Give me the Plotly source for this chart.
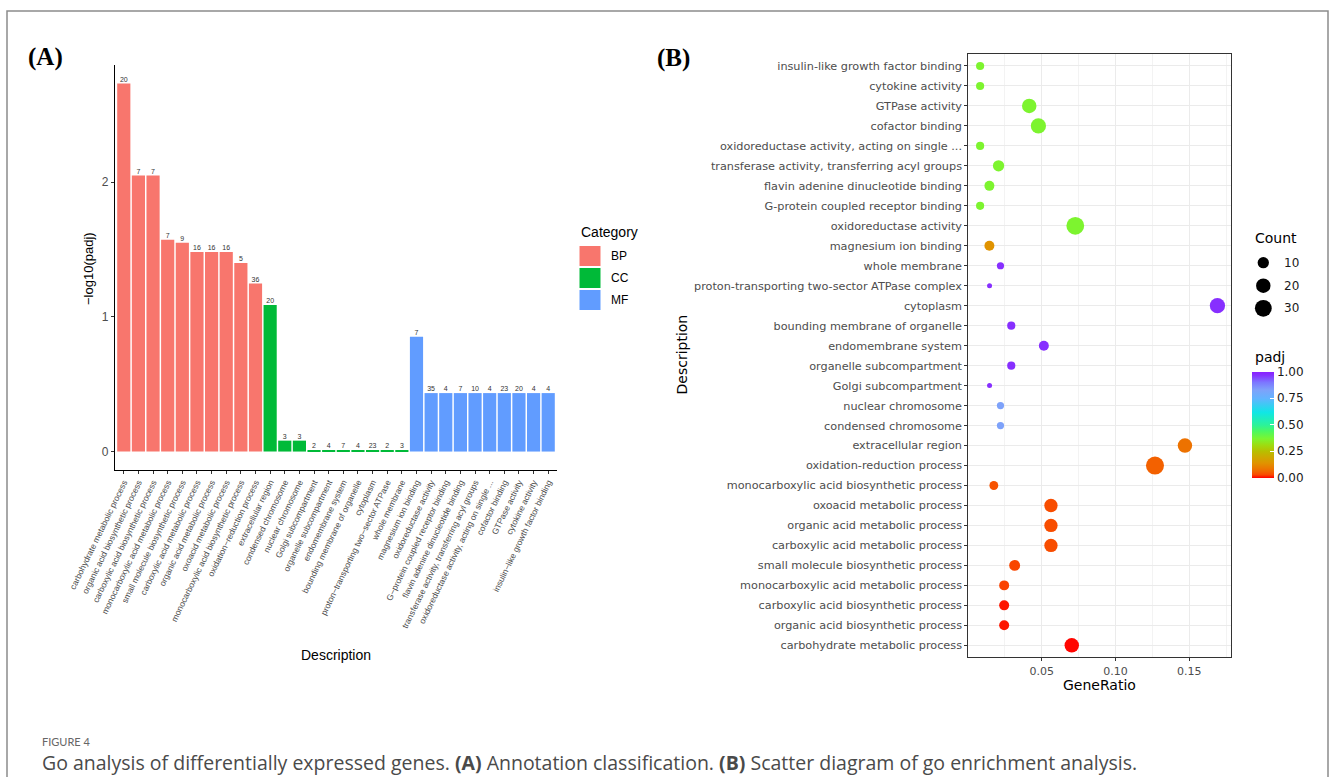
import numpy as np
import plotly.graph_objects as go

W, H = 1330, 777

# GO terms: bars run left to right in this order, dots run bottom to top
terms = [
    "carbohydrate metabolic process",
    "organic acid biosynthetic process",
    "carboxylic acid biosynthetic process",
    "monocarboxylic acid metabolic process",
    "small molecule biosynthetic process",
    "carboxylic acid metabolic process",
    "organic acid metabolic process",
    "oxoacid metabolic process",
    "monocarboxylic acid biosynthetic process",
    "oxidation-reduction process",
    "extracellular region",
    "condensed chromosome",
    "nuclear chromosome",
    "Golgi subcompartment",
    "organelle subcompartment",
    "endomembrane system",
    "bounding membrane of organelle",
    "cytoplasm",
    "proton-transporting two-sector ATPase complex",
    "whole membrane",
    "magnesium ion binding",
    "oxidoreductase activity",
    "G-protein coupled receptor binding",
    "flavin adenine dinucleotide binding",
    "transferase activity, transferring acyl groups",
    "oxidoreductase activity, acting on single ...",
    "cofactor binding",
    "GTPase activity",
    "cytokine activity",
    "insulin-like growth factor binding",
]

# tick labels of the bar chart
bar_labels = [
    "carbohydrate metabolic process",
    "organic acid biosynthetic process",
    "carboxylic acid biosynthetic process",
    "monocarboxylic acid metabolic process",
    "small molecule biosynthetic process",
    "carboxylic acid metabolic process",
    "organic acid metabolic process",
    "oxoacid metabolic process",
    "monocarboxylic acid biosynthetic process",
    "oxidation\u2212reduction process",
    "extracellular region",
    "condensed chromosome",
    "nuclear chromosome",
    "Golgi subcompartment",
    "organelle subcompartment",
    "endomembrane system",
    "bounding membrane of organelle",
    "cytoplasm",
    "proton\u2212transporting two\u2212sector ATPase",
    "whole membrane",
    "magnesium ion binding",
    "oxidoreductase activity",
    "G\u2212protein coupled receptor binding",
    "flavin adenine dinucleotide binding",
    "transferase activity, transferring acyl groups",
    "oxidoreductase activity, acting on single ...",
    "cofactor binding",
    "GTPase activity",
    "cytokine activity",
    "insulin\u2212like growth factor binding",
]

category = ["BP"] * 10 + ["CC"] * 10 + ["MF"] * 10

counts = [20, 7, 7, 7, 9, 16, 16, 16, 5, 36,
          20, 3, 3, 2, 4, 7, 4, 23, 2, 3,
          7, 35, 4, 7, 10, 4, 23, 20, 4, 4]

neg_log10_padj = [2.733, 2.049, 2.049, 1.573, 1.550, 1.481, 1.481, 1.481, 1.400, 1.247,
                  1.089, 0.081, 0.081, 0.011, 0.011, 0.011, 0.011, 0.011, 0.011, 0.011,
                  0.852, 0.434, 0.434, 0.434, 0.434, 0.434, 0.434, 0.434, 0.434, 0.434]

gene_ratio = [0.0704, 0.0246, 0.0246, 0.0246, 0.0317, 0.0563, 0.0563, 0.0563, 0.0176, 0.1268,
              0.1471, 0.0221, 0.0221, 0.0147, 0.0294, 0.0515, 0.0294, 0.1691, 0.0147, 0.0221,
              0.0146, 0.0728, 0.0083, 0.0146, 0.0208, 0.0083, 0.0478, 0.0416, 0.0083, 0.0083]

size_legend_counts = [10, 20, 30]
padj_ticks = [0.0, 0.25, 0.5, 0.75, 1.0]
ratio_ticks = [0.05, 0.10, 0.15]

cat_colors = {"BP": "#F8766D", "CC": "#00BA38", "MF": "#619CFF"}

padj_scale = [
    [0.00, "#FF0000"], [0.03, "#F94A00"], [0.06, "#F26400"], [0.09, "#EB7800"],
    [0.14, "#E09300"], [0.20, "#CCAA00"], [0.25, "#B8BE00"], [0.31, "#9EDC10"],
    [0.37, "#7CF530"], [0.44, "#4CF860"], [0.50, "#2CF29A"], [0.62, "#10E6E6"],
    [0.75, "#62B4FF"], [0.83, "#7EA2FA"], [0.90, "#7C78FF"], [0.97, "#8632FF"],
    [1.00, "#8A20FF"],
]

SANS = "Liberation Sans, Arial, sans-serif"
DJV = "DejaVu Sans, sans-serif"


def px(x):
    return x / W


def py(y):
    return 1 - y / H


padj = [10 ** (-v) for v in neg_log10_padj]
cmin_, cmax_ = min(counts), max(counts)


def dot_size(c):
    return 5 + 13 * np.sqrt((c - cmin_) / (cmax_ - cmin_))


sizes = [dot_size(c) for c in counts]
n_terms = len(terms)

fig = go.Figure()

# (A) bar chart of -log10(padj)
fig.add_trace(go.Bar(
    x=bar_labels, y=neg_log10_padj, width=0.9,
    marker=dict(color=[cat_colors[c] for c in category], line=dict(width=0)),
    xaxis="x", yaxis="y", showlegend=False, hoverinfo="skip",
))
fig.add_trace(go.Scatter(
    x=bar_labels, y=neg_log10_padj, mode="text",
    text=[str(c) for c in counts], textposition="top center",
    textfont=dict(family=SANS, size=7, color="#333333"),
    xaxis="x", yaxis="y", showlegend=False, hoverinfo="skip", cliponaxis=False,
))

# (B) enrichment dot plot
fig.add_trace(go.Scatter(
    x=gene_ratio, y=terms, mode="markers",
    marker=dict(
        size=sizes, sizemode="diameter", color=padj, colorscale=padj_scale,
        cmin=0, cmax=1, opacity=1, line=dict(width=0),
        colorbar=dict(
            x=px(1252), xanchor="left", y=py(424.7), yanchor="middle",
            len=106, lenmode="pixels", thickness=22, thicknessmode="pixels",
            xpad=0, ypad=0, outlinewidth=0,
            tickvals=padj_ticks, ticktext=[f"{v:.2f}" for v in padj_ticks],
            ticks="inside", ticklen=4, tickcolor="white", tickwidth=1,
            tickfont=dict(family=DJV, size=12, color="#1A1A1A"),
        ),
    ),
    xaxis="x2", yaxis="y2", showlegend=False, hoverinfo="skip",
))

fig.update_layout(
    width=W, height=H, margin=dict(l=0, r=0, t=0, b=0),
    template="none", paper_bgcolor="white", plot_bgcolor="white",
    showlegend=False,
    xaxis=dict(
        domain=[px(115), px(557)], anchor="y", type="category",
        categoryorder="array", categoryarray=bar_labels,
        range=[-0.6, n_terms - 0.4],
        showline=True, linecolor="black", linewidth=1.1, mirror=False,
        ticks="outside", ticklen=3, tickcolor="#333333", tickwidth=1,
        tickangle=-64, tickfont=dict(family=SANS, size=8.5, color="#4D4D4D"),
        showgrid=False, zeroline=False, automargin=False,
    ),
    yaxis=dict(
        domain=[py(470), py(65)], anchor="x", range=[-0.137, 2.87],
        tickvals=[0, 1, 2], showline=True, linecolor="black", linewidth=1.1,
        ticks="outside", ticklen=3, tickcolor="#333333", tickwidth=1,
        tickfont=dict(family=SANS, size=12, color="#4D4D4D"),
        showgrid=False, zeroline=False, automargin=False,
    ),
    xaxis2=dict(
        domain=[px(968.3), px(1231)], anchor="y2", range=[0.0003, 0.1783],
        tickvals=ratio_ticks, ticktext=[f"{v:.2f}" for v in ratio_ticks],
        showline=True, mirror=True, linecolor="#333333", linewidth=1.1,
        ticks="outside", ticklen=3, tickcolor="#333333", tickwidth=1,
        tickfont=dict(family=DJV, size=11, color="#4D4D4D"),
        showgrid=True, gridcolor="#EBEBEB", gridwidth=1.1,
        minor=dict(tickvals=[0.025, 0.075, 0.125, 0.175], showgrid=True,
                   gridcolor="#F3F3F3", gridwidth=0.6, ticks=""),
        zeroline=False, automargin=False,
    ),
    yaxis2=dict(
        domain=[py(657.3), py(54)], anchor="x2", type="category",
        categoryorder="array", categoryarray=terms, range=[-0.6, n_terms - 0.4],
        showline=True, mirror=True, linecolor="#333333", linewidth=1.1,
        ticks="outside", ticklen=3, tickcolor="#333333", tickwidth=1,
        tickfont=dict(family=DJV, size=11.25, color="#4D4D4D"),
        showgrid=True, gridcolor="#EBEBEB", gridwidth=1.1,
        zeroline=False, automargin=False,
    ),
)

annotations = [
    dict(text="<b>(A)</b>", x=px(26), y=py(57), xanchor="left", yanchor="middle",
         font=dict(family="Liberation Serif, serif", size=25, color="black")),
    dict(text="<b>(B)</b>", x=px(655), y=py(58), xanchor="left", yanchor="middle",
         font=dict(family="Liberation Serif, serif", size=25, color="black")),
    dict(text="\u2212log10(padj)", x=px(88), y=py(268), textangle=-90,
         xanchor="center", yanchor="middle", font=dict(family=SANS, size=13, color="black")),
    dict(text="Description", x=px(336), y=py(655), xanchor="center", yanchor="middle",
         font=dict(family=SANS, size=14, color="black")),
    dict(text="Description", x=px(681.5), y=py(355), textangle=-90,
         xanchor="center", yanchor="middle", font=dict(family=DJV, size=14, color="black")),
    dict(text="GeneRatio", x=px(1099.5), y=py(685), xanchor="center", yanchor="middle",
         font=dict(family=DJV, size=14, color="black")),
    dict(text="Category", x=px(579), y=py(232), xanchor="left", yanchor="middle",
         font=dict(family=SANS, size=14, color="black")),
    dict(text="Count", x=px(1252.5), y=py(238.3), xanchor="left", yanchor="middle",
         font=dict(family=DJV, size=14, color="black")),
    dict(text="padj", x=px(1252.5), y=py(356.7), xanchor="left", yanchor="middle",
         font=dict(family=DJV, size=14, color="black")),
    dict(text="FIGURE 4", x=px(40), y=py(741), xanchor="left", yanchor="middle",
         font=dict(family="Lato, sans-serif", size=11, color="#666666")),
    dict(text="Go analysis of differentially expressed genes. <b>(A)</b> Annotation classification. "
              "<b>(B)</b> Scatter diagram of go enrichment analysis.",
         x=px(40), y=py(762), xanchor="left", yanchor="middle",
         font=dict(family="Open Sans, sans-serif", size=19.5, color="#4A4A4A")),
]

shapes = [
    # outer frame
    dict(type="rect", xref="paper", yref="paper", x0=px(7), x1=px(1328), y0=py(11), y1=-0.05,
         line=dict(color="#8C8C8C", width=1.5), fillcolor="rgba(0,0,0,0)", layer="above"),
]

# Category legend keys
key_tops = [246, 268, 290]
for cat, top in zip(["BP", "CC", "MF"], key_tops):
    shapes.append(dict(type="rect", xref="paper", yref="paper",
                       x0=px(579.5), x1=px(600.5), y0=py(top + 20), y1=py(top),
                       line=dict(width=0), fillcolor=cat_colors[cat]))
    annotations.append(dict(text=cat, x=px(609), y=py(top + 10), xanchor="left", yanchor="middle",
                            font=dict(family=SANS, size=12, color="black")))

# Count legend keys
key_centers = [262.7, 285.7, 308.3]
for c, cy in zip(size_legend_counts, key_centers):
    r = dot_size(c) / 2
    shapes.append(dict(type="circle", xref="paper", yref="paper",
                       xsizemode="pixel", ysizemode="pixel",
                       xanchor=px(1263.3), yanchor=py(cy),
                       x0=-r, x1=r, y0=-r, y1=r,
                       line=dict(width=0), fillcolor="black"))
    annotations.append(dict(text=str(c), x=px(1281.7), y=py(cy), xanchor="left", yanchor="middle",
                            font=dict(family=DJV, size=12, color="#1A1A1A")))

for a in annotations:
    a.setdefault("xref", "paper")
    a.setdefault("yref", "paper")
    a.setdefault("showarrow", False)

fig.update_layout(annotations=annotations, shapes=shapes)

fig.write_html("out.html")
